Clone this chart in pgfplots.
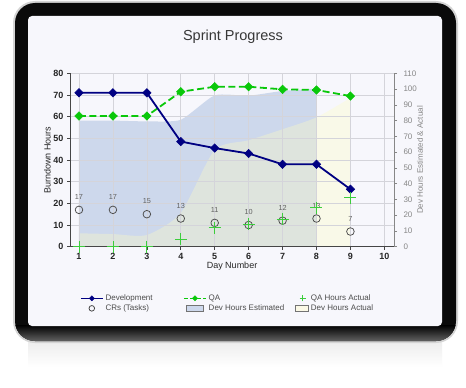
\documentclass[border=0pt]{standalone}
\usepackage{fontspec}
\setmainfont{Liberation Sans}
\usepackage{pgfplots}
\pgfplotsset{compat=1.18}
\definecolor{screenbg}{RGB}{247,247,252}
\definecolor{navyline}{RGB}{0,0,130}
\definecolor{qagreen}{RGB}{10,200,10}
\definecolor{plusgreen}{RGB}{60,205,60}
\definecolor{areablue}{RGB}{205,216,236}
\definecolor{areayellow}{RGB}{255,253,195}
\definecolor{legyellow}{RGB}{251,249,230}
\definecolor{gridgray}{RGB}{212,212,218}
\definecolor{axisdark}{RGB}{70,70,70}
\definecolor{rightgray}{RGB}{135,135,135}
\definecolor{titlegray}{RGB}{55,55,55}
\definecolor{legtext}{RGB}{75,75,75}
\newcommand\fs[1]{\fontsize{#1bp}{#1bp}\selectfont}
\begin{document}
\begin{tikzpicture}[x=1bp,y=1bp]
% canvas
\fill[white] (0,0) rectangle (466,387);
% reflection
\shade[top color=black!7, bottom color=white] (28,20) rectangle (442,45);
% tablet
\fill[black!17, rounded corners=22bp] (13,44) rectangle (458,386);
\fill[black!96, rounded corners=20bp] (15,46) rectangle (456,384);
\begin{scope}
\clip[rounded corners=20bp] (15,46) rectangle (456,384);
\shade[top color=black, bottom color=black!62] (15,46) rectangle (456,62);
\end{scope}
\fill[screenbg, rounded corners=4bp] (28,61) rectangle (442,371);
% title
\node[font=\fs{14.5}, text=titlegray] at (233,350.7) {Sprint Progress};

% ---------- right axis: areas ----------
\begin{axis}[
  at={(70bp,140.3bp)}, anchor=south west, scale only axis,
  width=324bp, height=173.4bp,
  xmin=0.735, xmax=10.285, ymin=0, ymax=110,
  axis x line=none, axis y line*=right,
  ytick={0,10,...,110},
  tick align=outside, major tick length=3bp,
  y axis line style={rightgray, line width=0.8bp},
  ytick style={rightgray, line width=0.6bp},
  /pgf/number format/assume math mode=true,
  yticklabel style={font=\fs{8}, text=rightgray, xshift=3bp},
  ylabel={Dev Hours Estimated \& Actual},
  ylabel style={font=\fs{8}, text=rightgray, at={(axis description cs:1.080,0.5)}, anchor=center},
]
\addplot[draw=none, fill=areablue, smooth, tension=0.35] coordinates {
  (1,80) (2,80) (3,79.5) (4,80.5) (5,96) (6,95.8) (7,98.8) (8,100.3)
} \closedcycle;
\addplot[draw=none, fill=areayellow, fill opacity=0.35, smooth, tension=0.4] coordinates {
  (1,8.5) (2,8) (3,7.4) (4,21.4) (5,61.4) (6,67.5) (7,74.5) (8,82) (9,94.4)
} \closedcycle;
\end{axis}

% ---------- left axis: grid, lines ----------
\begin{axis}[
  at={(70bp,140.3bp)}, anchor=south west, scale only axis,
  width=324bp, height=173.4bp,
  xmin=0.735, xmax=10.285, ymin=0, ymax=80,
  axis x line*=bottom, axis y line*=left,
  xtick={1,...,10}, ytick={0,10,...,80},
  grid=major, grid style={gridgray, line width=0.7bp},
  tick align=outside, major tick length=3bp,
  axis line style={axisdark, line width=1bp},
  tick style={axisdark, line width=0.7bp},
  /pgf/number format/assume math mode=true,
  ticklabel style={font=\bfseries\fs{9}, text=black!85},
  xlabel={Day Number},
  xlabel style={font=\fs{9}, text=black!85, at={(axis description cs:0.5,-0.113)}, anchor=center},
  ylabel={Burndown Hours},
  ylabel style={font=\fs{9}, text=black!85, at={(axis description cs:-0.070,0.5)}, anchor=center},
  legend columns=3,
  legend cell align=left,
  legend style={at={(0.031,-0.269)}, anchor=north west, draw=none, fill=none,
    inner sep=0pt, outer sep=0pt, font=\fs{8}, text=legtext,
    nodes={inner ysep=1.15bp, text height=6bp, text depth=1.7bp},
    row sep=0pt, column sep=0bp},
]
% QA
\addplot[forget plot, qagreen, line width=1.8bp, dash pattern=on 7bp off 3.5bp,
  mark=square*, mark size=3bp, mark options={solid, rotate=45, fill=qagreen, draw=qagreen, line width=0.5bp}]
  coordinates {(1,60.3) (2,60.3) (3,60.3) (4,71.5) (5,73.8) (6,73.8) (7,72.6) (8,72.3) (9,69.5)};
% Development
\addplot[forget plot, navyline, line width=1.8bp,
  mark=square*, mark size=3bp, mark options={rotate=45, fill=navyline, draw=navyline, line width=0.5bp}]
  coordinates {(1,71) (2,71) (3,71) (4,48.5) (5,45.5) (6,43) (7,38) (8,38) (9,26.5)};
% CRs (Tasks)
\addplot[forget plot, only marks, mark=o, mark size=3.8bp,
  mark options={draw=black!70, line width=0.75bp},
  point meta=y, nodes near coords={\pgfmathprintnumber{\pgfplotspointmeta}},
  every node near coord/.style={anchor=center, yshift=13bp, font=\fs{7.3}, text=black!62}]
  coordinates {(1,17) (2,17) (3,15) (4,13) (5,11) (6,10) (7,12) (8,13) (9,7)};
% QA Hours Actual
\addplot[forget plot, only marks, mark=+, mark size=6bp,
  mark options={draw=plusgreen, line width=0.8bp}]
  coordinates {(1,0) (2,0) (3,0) (4,3.6) (5,8.8) (6,10.3) (7,12.8) (8,18) (9,22.6)};

% legend entries
\addlegendimage{legend image code/.code={
  \draw[navyline, line width=1.5bp] (0bp,0bp) -- (22bp,0bp);
  \fill[navyline] (11bp,2.6bp) -- (13.6bp,0bp) -- (11bp,-2.6bp) -- (8.4bp,0bp) -- cycle;}}
\addlegendentry{\makebox[75.7bp][l]{Development}}
\addlegendimage{legend image code/.code={
  \draw[qagreen, line width=1.5bp, dash pattern=on 4bp off 2.5bp] (0bp,0bp) -- (22bp,0bp);
  \fill[qagreen] (11bp,2.6bp) -- (13.6bp,0bp) -- (11bp,-2.6bp) -- (8.4bp,0bp) -- cycle;}}
\addlegendentry{\makebox[84.7bp][l]{QA}}
\addlegendimage{legend image code/.code={
  \draw[plusgreen, line width=0.8bp] (11bp,-3bp) -- (11bp,3bp) (8bp,0bp) -- (14bp,0bp);}}
\addlegendentry{QA Hours Actual}
\addlegendimage{legend image code/.code={
  \draw[black!75, line width=0.75bp] (11bp,0bp) circle (2.8bp);}}
\addlegendentry{CRs (Tasks)}
\addlegendimage{legend image code/.code={
  \draw[fill=areablue, draw=black!55, line width=0.5bp] (2.5bp,-3bp) rectangle (19.5bp,3bp);}}
\addlegendentry{Dev Hours Estimated}
\addlegendimage{legend image code/.code={
  \draw[fill=legyellow, draw=black!55, line width=0.5bp] (4bp,-3bp) rectangle (17bp,3bp);}}
\addlegendentry{Dev Hours Actual}
\end{axis}
\end{tikzpicture}
\end{document}
